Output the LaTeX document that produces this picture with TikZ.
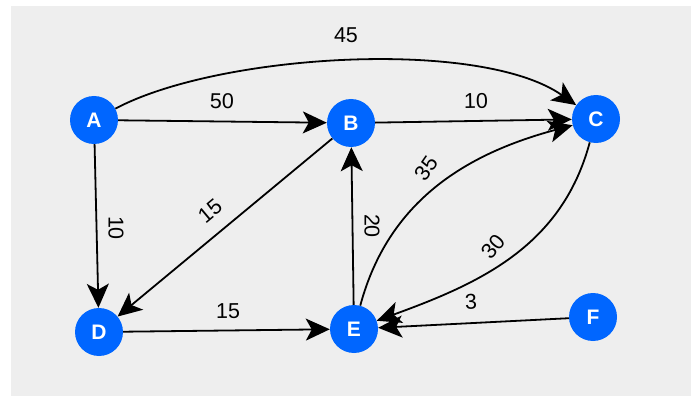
\documentclass[tikz,border=0pt]{standalone}
\usepackage{fontspec}
\setmainfont{Liberation Sans}
\usetikzlibrary{arrows.meta}
\definecolor{bgc}{HTML}{EEEEEE}
\definecolor{nodeblue}{HTML}{0066FF}
\begin{document}
\begin{tikzpicture}[x=1pt,y=-1pt,
  vtx/.style={circle,fill=nodeblue,minimum size=48pt,inner sep=0pt,text=white,font=\fontsize{21}{22}\selectfont\bfseries},
  edge/.style={line width=1.8pt,-{Stealth[length=24pt,width=22pt,inset=6pt]}},
  lbl/.style={font=\fontsize{21.5}{23}\selectfont,inner sep=0pt}]
\useasboundingbox (0,0) rectangle (697,396);
\fill[bgc] (11,6) rectangle (691,396);
\node[vtx] (A) at (94,120) {A};
\node[vtx] (B) at (351,123) {B};
\node[vtx] (C) at (596,119) {C};
\node[vtx] (D) at (99,332) {D};
\node[vtx] (E) at (354,329) {E};
\node[vtx] (F) at (593,317) {F};
\draw[edge] (A) to[out=28,in=145,looseness=0.65] (C);
\draw[edge] (A) -- (B);
\draw[edge] (B) -- (C);
\draw[edge] (A) -- (D);
\draw[edge] (B) -- (D);
\draw[edge] (D) -- (E);
\draw[edge] (E) -- (B);
\draw[edge] (E) to[out=75,in=195] (C);
\draw[edge] (C) to[out=255,in=20] (E);
\draw[edge] (F) -- (E);
\node[lbl] (l45) at (346,35) {45};
\node[lbl,rotate=-0.7] (l50) at (222,101) {50};
\node[lbl,rotate=1] (l10a) at (476,101) {10};
\node[lbl,rotate=-90] (l10b) at (116,228) {10};
\node[lbl,rotate=40] (l15a) at (210,211) {15};
\node[lbl,rotate=0.5] (l15b) at (228,311) {15};
\node[lbl,rotate=-90] (l20) at (372,226) {20};
\node[lbl,rotate=55] (l35) at (426,168) {35};
\node[lbl,rotate=50] (l30) at (493,247) {30};
\node[lbl,rotate=3] (l3) at (471,302) {3};
\end{tikzpicture}
\end{document}
